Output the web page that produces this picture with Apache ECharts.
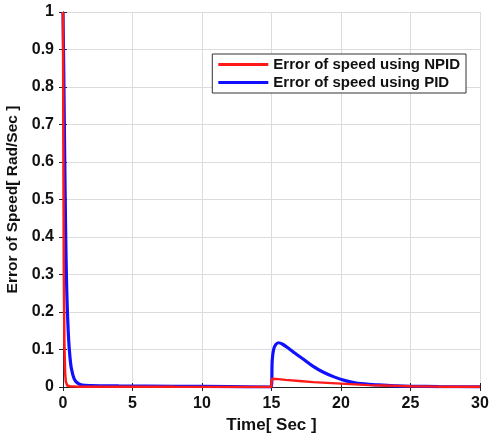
<!DOCTYPE html>
<html>
<head>
<meta charset="utf-8">
<script src="https://cdn.jsdelivr.net/npm/echarts@6/dist/echarts.min.js"></script>
<style>
  html, body { margin: 0; padding: 0; background: #fff; }
  #chart { width: 490px; height: 436px; }
</style>
</head>
<body>
<div id="chart"></div>
<script>
// time (s) and error values
var tNPID = [0, 0.03, 0.06, 0.1, 0.15, 0.2, 0.3, 0.5, 1, 3, 8, 14.98, 15.02, 15.5, 16, 17, 18, 19, 20, 21, 22, 23, 24, 25, 27, 30];
var eNPID = [1, 0.6, 0.3, 0.12, 0.04, 0.015, 0.004, 0.002, 0.001, 0.001, 0.0005, 0, 0.022, 0.021, 0.019, 0.016, 0.013, 0.011, 0.009, 0.007, 0.005, 0.004, 0.003, 0.002, 0.001, 0.0005];

var tPID = [0, 0.05, 0.1, 0.15, 0.2, 0.25, 0.3, 0.4, 0.5, 0.6, 0.8, 1.0, 1.3, 2, 4, 8, 12, 14.98, 15.05, 15.15, 15.3, 15.5, 15.8, 16.2, 16.7, 17.3, 18, 18.7, 19.5, 20.3, 21, 22, 23, 24, 25, 27, 30];
var ePID = [1, 0.86, 0.69, 0.53, 0.39, 0.29, 0.22, 0.13, 0.08, 0.05, 0.022, 0.012, 0.006, 0.004, 0.003, 0.002, 0.001, 0, 0.07, 0.1, 0.113, 0.118, 0.114, 0.104, 0.09, 0.074, 0.055, 0.04, 0.027, 0.017, 0.011, 0.007, 0.005, 0.003, 0.002, 0.001, 0.0005];

var xTicks = [0, 5, 10, 15, 20, 25, 30];
var yTicks = [0, 0.1, 0.2, 0.3, 0.4, 0.5, 0.6, 0.7, 0.8, 0.9, 1];

function pairs(t, v) {
  return t.map(function (x, i) { return [x, v[i]]; });
}

var chart = echarts.init(document.getElementById('chart'));
var font = 'Liberation Sans, Arial, sans-serif';

var option = {
  animation: false,
  backgroundColor: '#fff',
  grid: { left: 63, right: 10, top: 12, bottom: 49, containLabel: false, outerBoundsMode: 'none' },
  legend: {
    right: 24, top: 54,
    orient: 'vertical',
    itemWidth: 50, itemHeight: 3, itemGap: 3,
    icon: 'rect',
    backgroundColor: '#fff',
    borderColor: '#333', borderWidth: 1,
    padding: [3, 6, 3, 6],
    textStyle: { fontFamily: font, fontWeight: 'bold', fontSize: 15, color: '#111' },
    data: ['Error of speed using NPID', 'Error of speed using PID']
  },
  xAxis: [{
    type: 'value', min: 0, max: 30, interval: 5,
    name: 'Time[ Sec ]', nameLocation: 'middle', nameGap: 28,
    nameTextStyle: { fontFamily: font, fontWeight: 'bold', fontSize: 17, color: '#111' },
    axisLine: { show: true, lineStyle: { color: '#222', width: 1 } },
    axisTick: { show: true, inside: true, length: 4, lineStyle: { color: '#222' } },
    axisLabel: { fontFamily: font, fontWeight: 'bold', fontSize: 16, color: '#111', margin: 9,
      formatter: function (v) { return xTicks.indexOf(v) >= 0 ? String(v) : ''; } },
    splitLine: { show: true, lineStyle: { color: '#dcdcdc', width: 1 } }
  }, {
    type: 'value', min: 0, max: 30, interval: 5, position: 'top',
    axisLine: { show: true, lineStyle: { color: '#222', width: 1 } },
    axisTick: { show: true, inside: true, length: 4, lineStyle: { color: '#222' } },
    axisLabel: { show: false }, splitLine: { show: false }
  }],
  yAxis: [{
    type: 'value', min: 0, max: 1, interval: 0.1,
    name: 'Error of Speed[ Rad/Sec ]', nameLocation: 'middle', nameGap: 42,
    nameTextStyle: { fontFamily: font, fontWeight: 'bold', fontSize: 15.5, color: '#111' },
    axisLine: { show: true, lineStyle: { color: '#222', width: 1 } },
    axisTick: { show: true, inside: true, length: 4, lineStyle: { color: '#222' } },
    axisLabel: { fontFamily: font, fontWeight: 'bold', fontSize: 16, color: '#111', margin: 9,
      formatter: function (v) { return String(Math.round(v * 10) / 10); } },
    splitLine: { show: true, lineStyle: { color: '#dcdcdc', width: 1 } }
  }, {
    type: 'value', min: 0, max: 1, interval: 0.1, position: 'right',
    axisLine: { show: true, lineStyle: { color: '#222', width: 1 } },
    axisTick: { show: true, inside: true, length: 4, lineStyle: { color: '#222' } },
    axisLabel: { show: false }, splitLine: { show: false }
  }],
  series: [{
    name: 'Error of speed using NPID',
    type: 'line', xAxisIndex: 0, yAxisIndex: 0,
    data: pairs(tNPID, eNPID),
    showSymbol: false, z: 4,
    color: '#ff1a1a',
    lineStyle: { color: '#ff1a1a', width: 2.5 }
  }, {
    name: 'Error of speed using PID',
    type: 'line', xAxisIndex: 0, yAxisIndex: 0,
    data: pairs(tPID, ePID),
    showSymbol: false, smooth: 0.3, z: 3,
    color: '#1010ff',
    lineStyle: { color: '#1010ff', width: 3.2 }
  }]
};

chart.setOption(option);
</script>
</body>
</html>
